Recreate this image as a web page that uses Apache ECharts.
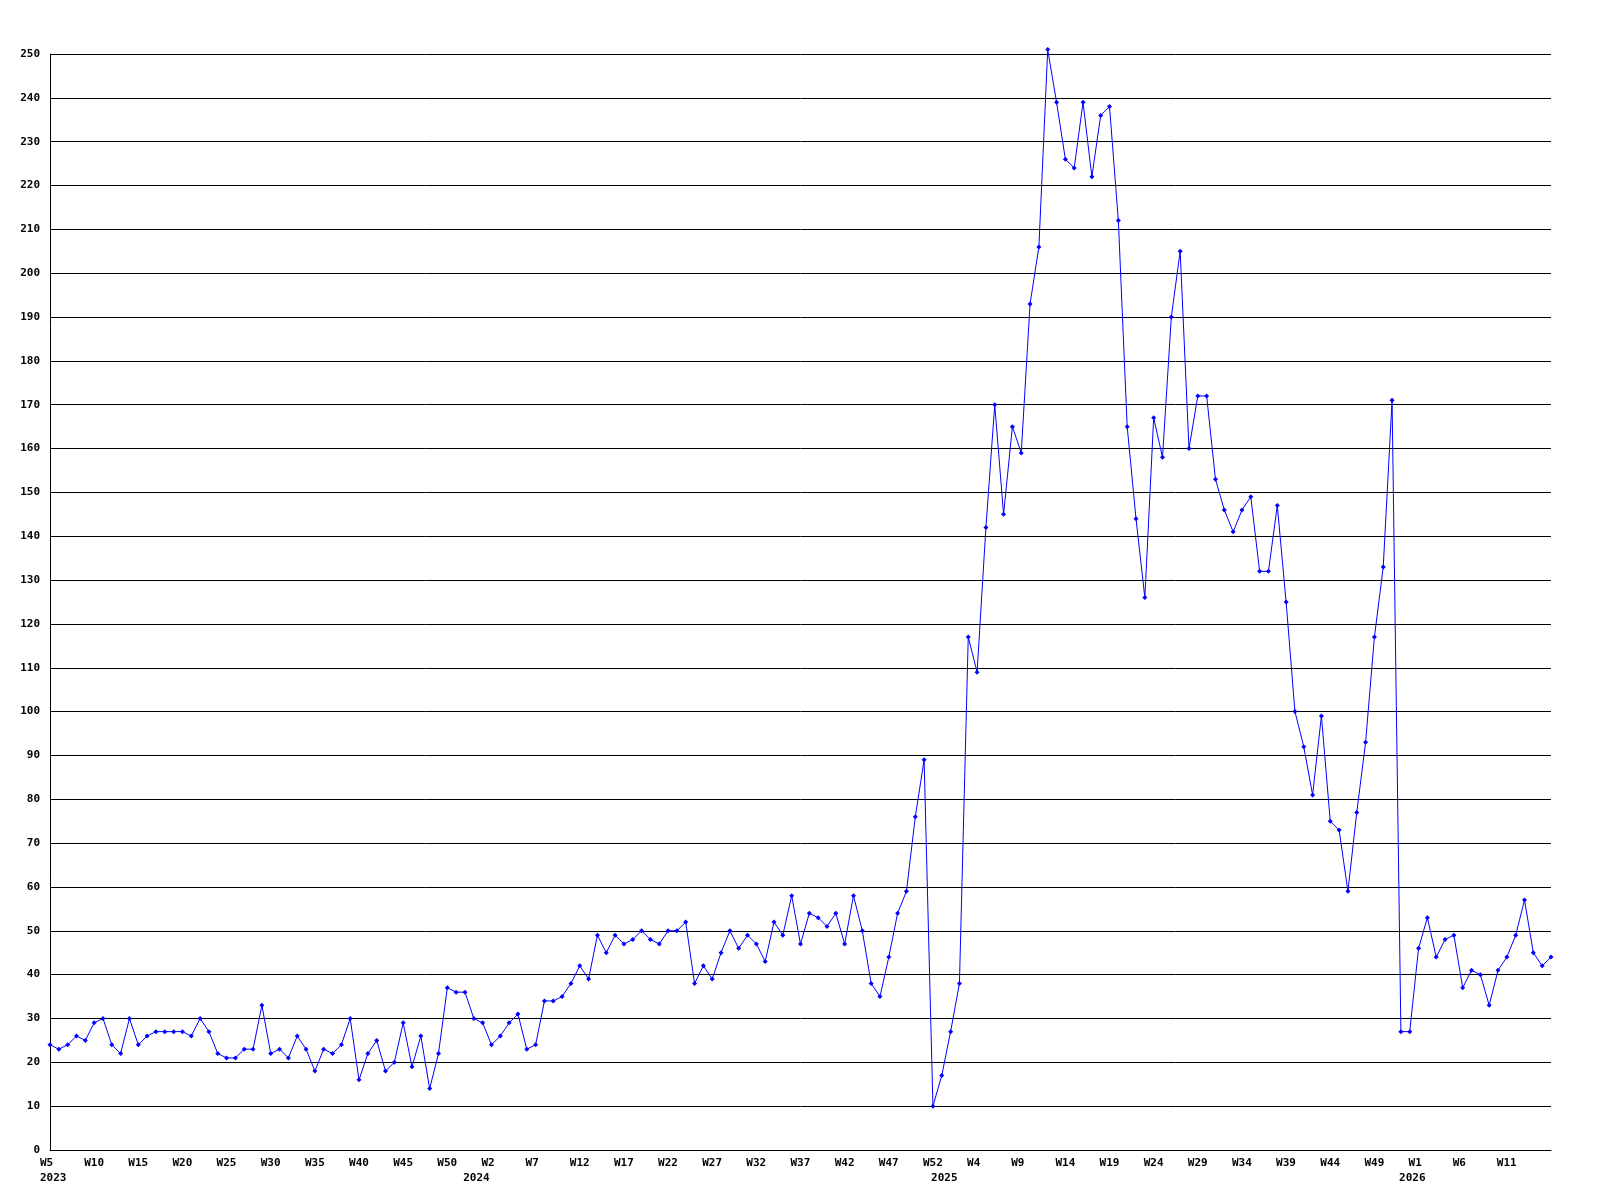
<!DOCTYPE html>
<html>
<head>
<meta charset="utf-8">
<script src="https://cdn.jsdelivr.net/npm/echarts@6/dist/echarts.min.js"></script>
<style>
html,body{margin:0;padding:0;background:#fff;}
#chart{width:1600px;height:1200px;}
</style>
</head>
<body>
<div id="chart"></div>
<script>
// Week ranges per year: [year, firstWeek, lastWeek]
const weekRanges = [[2023, 5, 53], [2024, 1, 53], [2025, 1, 53], [2026, 1, 16]];

// Weekly values
const values2023 = [24,23,24,26,25,29,30,24,22,30,24,26,27,27,27,27,26,30,27,22,21,21,23,23,33,22,23,21,26,23,18,
  23,22,24,30,16,22,25,18,20,29,19,26,14,22,37,36,36,30];
const values2024 = [29,24,26,29,31,23,24,34,34,35,38,42,39,49,45,49,
  47,48,50,48,47,50,50,52,38,42,39,45,50,46,49,47,43,52,49,58,47,54,53,51,54,47,58,50,38,35,44,54,59,76,89,10,17];
const values2025 = [27,38,117,109,142,170,145,165,159,193,206,251,239,226,224,239,222,236,238,212,165,144,
  126,167,158,190,205,160,172,172,153,146,141,146,149,132,132,147,125,100,92,81,99,75,73,59,77,93,117,133,171,27,27];
const values2026 = [46,53,44,48,49,37,41,40,33,41,44,49,57,45,42,44];

const yTicks = {min: 0, max: 250, interval: 10};
const labelEvery = 5;

// Build categories from the week ranges
const categories = [];
const yearStart = {};
weekRanges.forEach(([y, a, b]) => {
  for (let w = a; w <= b; w++) {
    if (w === a) yearStart[categories.length] = y;
    categories.push('W' + w);
  }
});
const values = [].concat(values2023, values2024, values2025, values2026);
const lastIdx = categories.length - 1;

const font = {fontFamily: 'DejaVu Sans Mono', fontWeight: 'bold', fontSize: 11, color: '#000'};

const chart = echarts.init(document.getElementById('chart'), null, {renderer: 'canvas'});
chart.setOption({
  backgroundColor: '#fff',
  animation: false,
  grid: {left: 50, right: 49, top: 54, bottom: 50, containLabel: false},
  xAxis: [{
    type: 'category',
    data: categories,
    boundaryGap: false,
    axisLine: {show: true, lineStyle: {color: '#000', width: 1}},
    axisTick: {show: false},
    splitLine: {show: false},
    axisLabel: Object.assign({
      margin: 8,
      interval: (i) => i % labelEvery === 0 && i < lastIdx,
      formatter: (v, i) => (i % labelEvery === 0 && i < lastIdx) ? '{a|' + v + '}' : '',
      rich: {a: Object.assign({width: 20, align: 'left'}, font)}
    }, font)
  }, {
    type: 'category',
    data: categories,
    boundaryGap: false,
    position: 'bottom',
    offset: 15,
    axisLine: {show: false},
    axisTick: {show: false},
    splitLine: {show: false},
    axisLabel: Object.assign({
      margin: 8,
      interval: (i) => yearStart[i] !== undefined,
      formatter: (v, i) => yearStart[i] === undefined ? '' : (i === 0 ? '{f|' + yearStart[i] + '}' : '{y|' + yearStart[i] + '}'),
      rich: {
        f: Object.assign({width: 20, align: 'left'}, font),
        y: Object.assign({width: 39, align: 'left'}, font)
      }
    }, font)
  }],
  yAxis: {
    type: 'value',
    min: yTicks.min,
    max: yTicks.max,
    interval: yTicks.interval,
    axisLine: {show: true, lineStyle: {color: '#000', width: 1}},
    axisTick: {show: false},
    splitLine: {show: true, lineStyle: {color: '#000', width: 1}},
    axisLabel: Object.assign({margin: 10}, font)
  },
  series: [{
    type: 'line',
    data: values,
    xAxisIndex: 0,
    symbol: 'diamond',
    symbolSize: 5,
    showSymbol: true,
    lineStyle: {color: '#0000ff', width: 1},
    itemStyle: {color: '#0000ff'},
    clip: false
  }]
});
</script>
</body>
</html>
